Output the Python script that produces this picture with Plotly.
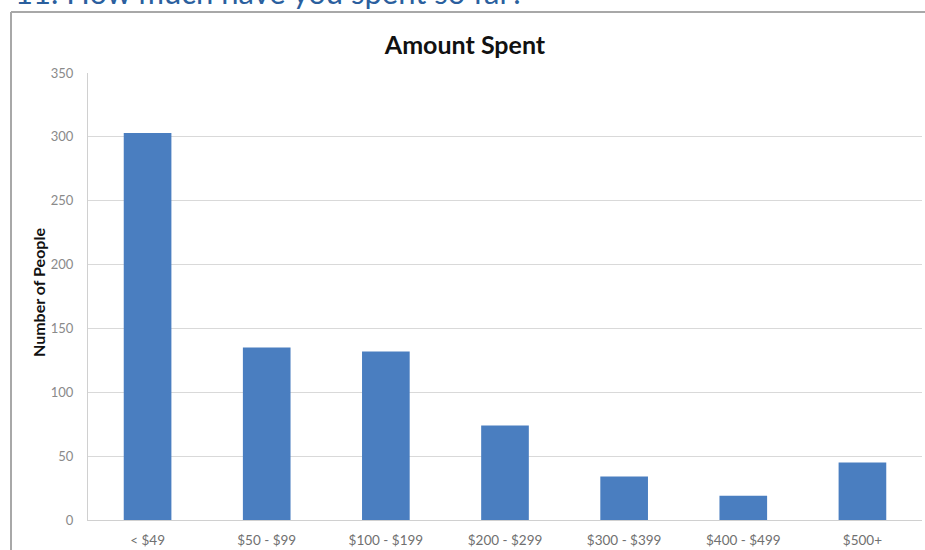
import plotly.graph_objects as go

categories = ["< $49", "$50 - $99", "$100 - $199", "$200 - $299", "$300 - $399", "$400 - $499", "$500+"]
people = [303, 135, 132, 74, 34, 19, 45]
y_ticks = [0, 50, 100, 150, 200, 250, 300, 350]

W, H = 925, 550
L, R, T, B = 88, 3, 73, 30
PW, PH = W - L - R, H - T - B

def px(x):
    return (x - L) / PW

def py(y):
    return (H - B - y) / PH

fig = go.Figure()
fig.add_trace(go.Bar(
    x=categories, y=people,
    marker=dict(color="#4A7EC0", line=dict(width=0)),
    hoverinfo="x+y",
))

fig.update_layout(
    width=W, height=H,
    margin=dict(l=L, r=R, t=T, b=B, autoexpand=False),
    paper_bgcolor="white", plot_bgcolor="white",
    bargap=0.6,
    showlegend=False,
    font=dict(family="Lato, sans-serif"),
    title=dict(text="<b>Amount Spent</b>", x=465 / W, xref="container", xanchor="center",
               y=1 - 45 / H, yref="container", yanchor="middle",
               font=dict(size=25, color="#111111", family="Lato, sans-serif")),
    xaxis=dict(showgrid=False, showline=True, linecolor="#D0D0D0", linewidth=1,
               ticks="", ticklabelstandoff=8, tickfont=dict(size=13.5, color="#707070"),
               fixedrange=True),
    yaxis=dict(range=[0, 350], tickvals=y_ticks, showgrid=True, gridcolor="#D9D9D9", gridwidth=1,
               showline=True, linecolor="#D0D0D0", linewidth=1, ticks="",
               ticklabelstandoff=11, tickfont=dict(size=13, color="#8A8A8A"), zeroline=False,
               fixedrange=True),
    annotations=[
        dict(text="11. How much have you spent so far?", xref="paper", yref="paper",
             x=px(13), y=py(13), xanchor="left", yanchor="bottom", showarrow=False,
             font=dict(size=31, color="#2B5F9E", family="Lato, sans-serif")),
        dict(text="<b>Number of People</b>", xref="paper", yref="paper",
             x=px(38), y=py(293), xanchor="center", yanchor="middle", textangle=-90,
             showarrow=False, font=dict(size=16, color="#111111")),
    ],
    shapes=[
        dict(type="line", xref="paper", yref="paper", x0=px(11), x1=px(11), y0=py(12), y1=py(560),
             line=dict(color="#A8A8A8", width=2)),
        dict(type="line", xref="paper", yref="paper", x0=px(11), x1=px(930), y0=py(12), y1=py(12),
             line=dict(color="#A8A8A8", width=2)),
    ],
)

fig.write_html("out.html")
